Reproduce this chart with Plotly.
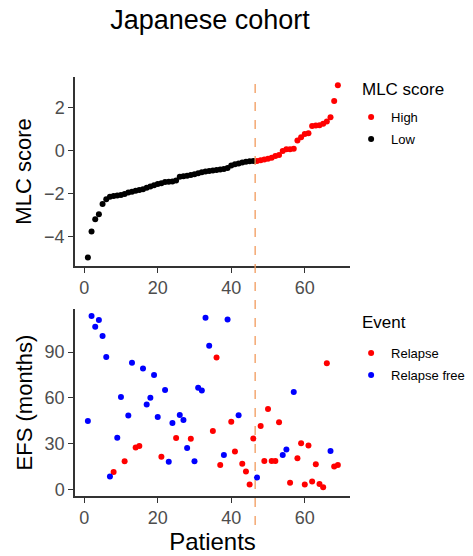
import plotly.graph_objects as go

# ---------------- data ----------------
patients = list(range(1, 70))
mlc_score = [-5.0, -3.78, -3.21, -2.97, -2.49, -2.27, -2.15, -2.12, -2.10, -2.07,
             -2.03, -1.96, -1.92, -1.88, -1.84, -1.80, -1.74, -1.68, -1.62, -1.56,
             -1.52, -1.47, -1.45, -1.44, -1.40, -1.22, -1.20, -1.17, -1.14, -1.11,
             -1.06, -1.01, -0.98, -0.95, -0.93, -0.91, -0.88, -0.86, -0.81, -0.69,
             -0.64, -0.60, -0.56, -0.52, -0.50, -0.49,
             -0.48, -0.45, -0.42, -0.38, -0.33, -0.25, -0.20, -0.02, 0.06, 0.06,
             0.09, 0.47, 0.62, 0.78, 0.81, 1.15, 1.17, 1.19, 1.25, 1.36, 1.56, 2.32, 3.05]
mlc_group = ["Low"] * 46 + ["High"] * 23

efs_months = [45, 113.5, 106.5, 110.9, 100.4, 86.8, 8.7, 11.7, 34.1, 60.7,
              18.7, 48.5, 83, 27.6, 28.7, 79.2, 55.7, 60.2, 75, 47.6,
              21.7, 65.2, 18.3, 43.7, 33.9, 48.9, 45.7, 27.4, 33.3, 18.7,
              66.7, 64.8, 112.4, 94.1, 38.5, 86.5, 16.3, 22.8, 111.3, 44.4,
              25, 48.7, 17, 12, 3.5, 33.5, 8, 41.7, 18.9, 52.8,
              18.9, 18.9, 44.1, 22.8, 26.3, 4.6, 63.9, 20.6, 30.4, 3.5,
              28.9, 5.4, 16.7, 3.9, 1.7, 82.6, 25.4, 15.2, 16.3]
event = ["RF"] * 7 + ["R", "RF", "RF", "R", "RF", "RF", "R", "R", "RF", "RF", "RF", "RF", "RF",
         "R", "RF", "RF", "RF", "R", "RF", "RF", "RF", "R", "RF", "RF", "RF", "RF", "RF",
         "R", "R", "R", "RF", "RF", "R", "R", "RF", "R", "R", "R", "R", "RF",
         "R", "R", "R", "R", "R", "R", "RF", "RF", "R", "RF", "R", "R", "R", "R",
         "R", "R", "R", "R", "R", "RF", "R", "R", "R"]
cutoff = 46.5
x_ticks = [0, 20, 40, 60]
mlc_ticks = [-4, -2, 0, 2]
efs_ticks = [0, 30, 60, 90]

FONT = "Liberation Sans, Arial, sans-serif"
fig = go.Figure()

def sel(vals, groups, g):
    return [v for v, gg in zip(vals, groups) if gg == g]

fig.add_trace(go.Scatter(x=sel(patients, mlc_group, "High"), y=sel(mlc_score, mlc_group, "High"),
                         mode="markers", name="High", marker=dict(color="#FF0000", size=6),
                         xaxis="x", yaxis="y", legend="legend", legendgroup="a"))
fig.add_trace(go.Scatter(x=sel(patients, mlc_group, "Low"), y=sel(mlc_score, mlc_group, "Low"),
                         mode="markers", name="Low", marker=dict(color="#000000", size=6),
                         xaxis="x", yaxis="y", legend="legend", legendgroup="b"))
fig.add_trace(go.Scatter(x=sel(patients, event, "R"), y=sel(efs_months, event, "R"),
                         mode="markers", name="Relapse", marker=dict(color="#FF0000", size=6),
                         xaxis="x2", yaxis="y2", legend="legend2", legendgroup="c"))
fig.add_trace(go.Scatter(x=sel(patients, event, "RF"), y=sel(efs_months, event, "RF"),
                         mode="markers", name="Relapse free", marker=dict(color="#0000FF", size=6),
                         xaxis="x2", yaxis="y2", legend="legend2", legendgroup="d"))

axis_common = dict(showgrid=False, zeroline=False, showline=True, linecolor="#333333", linewidth=1.5,
                   ticks="outside", ticklen=5, tickcolor="#333333", tickwidth=1.2,
                   tickfont=dict(size=18, color="#4D4D4D", family=FONT), mirror=False)

fig.update_layout(
    width=473, height=556,
    margin=dict(l=75, r=123, t=77, b=60, autoexpand=False),
    paper_bgcolor="white", plot_bgcolor="white",
    font=dict(family=FONT),
    showlegend=True,
    xaxis=dict(domain=[0, 1], anchor="y", range=[-2.5, 72.3], tickvals=x_ticks, **axis_common),
    yaxis=dict(domain=[0.549, 1], anchor="x", range=[-5.39, 3.44], tickvals=mlc_ticks,
               title=dict(text="MLC score", font=dict(size=22, color="black"), standoff=6), **axis_common),
    xaxis2=dict(domain=[0, 1], anchor="y2", range=[-2.5, 72.3], tickvals=x_ticks,
                title=dict(text="Patients", font=dict(size=24, color="black"), standoff=2), **axis_common),
    yaxis2=dict(domain=[0, 0.446], anchor="x2", range=[-4, 118], tickvals=efs_ticks,
                title=dict(text="EFS (months)", font=dict(size=22, color="black"), standoff=6), **axis_common),
    legend=dict(font=dict(size=13, color="black"), x=1.004, y=0.940, xanchor="left", yanchor="top",
                bgcolor="rgba(0,0,0,0)", tracegroupgap=2),
    legend2=dict(font=dict(size=13, color="black"), x=1.004, y=0.377, xanchor="left", yanchor="top",
                 bgcolor="rgba(0,0,0,0)", tracegroupgap=2),
    title=dict(text="Japanese cohort", x=0.444, xanchor="center", y=0.964, yanchor="middle",
               font=dict(size=27, color="black", family=FONT)),
    annotations=[
        dict(text="MLC score", xref="paper", yref="paper", x=1.036, y=0.969, xanchor="left",
             yanchor="middle", showarrow=False, font=dict(size=17, color="black")),
        dict(text="Event", xref="paper", yref="paper", x=1.036, y=0.413, xanchor="left",
             yanchor="middle", showarrow=False, font=dict(size=17, color="black")),
    ],
)

dash = dict(color="#F29A5C", width=1.3, dash="dash")
fig.add_shape(type="line", xref="x", yref="paper", x0=cutoff, x1=cutoff, y0=-0.069, y1=1.0, line=dash)

fig.write_html("out.html")
